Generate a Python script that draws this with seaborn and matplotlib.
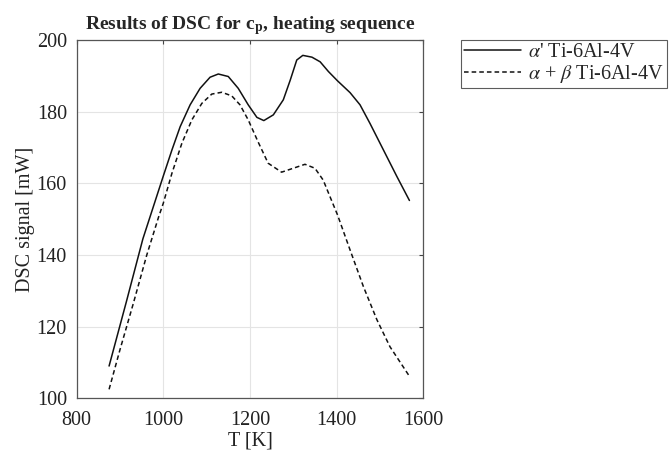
import numpy as np
import pandas as pd
import matplotlib
matplotlib.use("Agg")
import matplotlib.pyplot as plt
import seaborn as sns

# values
T_alpha_prime = [875, 915, 953, 1000, 1020, 1039, 1062, 1085, 1108, 1127, 1150,
                 1173, 1196, 1216, 1232, 1254, 1277, 1293, 1308, 1322, 1343, 1362,
                 1381, 1402, 1431, 1454, 1477, 1508, 1539, 1568]
dsc_alpha_prime = [109.0, 127.0, 144.5, 162.0, 169.3, 175.8, 181.9, 186.5, 189.6,
                   190.5, 189.8, 186.5, 181.9, 178.4, 177.5, 179.1, 183.3, 188.8,
                   194.4, 195.7, 195.2, 193.9, 191.2, 188.6, 185.3, 181.9, 176.7,
                   169.3, 161.9, 155.2]

T_alpha_beta = [875, 900, 931, 962, 989, 1000, 1020, 1043, 1066, 1089, 1112, 1135,
                1158, 1177, 1196, 1219, 1242, 1273, 1300, 1327, 1350, 1369, 1389,
                1402, 1431, 1462, 1493, 1523, 1566]
dsc_alpha_beta = [102.5, 113.5, 126.5, 140.0, 150.5, 154.4, 162.8, 171.2, 177.7,
                  182.3, 184.9, 185.4, 184.4, 181.9, 177.7, 171.5, 165.6, 163.1,
                  164.2, 165.3, 164.2, 160.9, 155.0, 151.2, 141.4, 131.1, 121.9,
                  114.4, 106.5]

label_prime = r"$\alpha$' Ti-6Al-4V"
label_ab = r"$\alpha$ + $\beta$ Ti-6Al-4V"

sns.set_style("whitegrid")
plt.rcParams['font.family'] = ['Liberation Serif', 'DejaVu Serif']
plt.rcParams['mathtext.fontset'] = 'stix'

df1 = pd.DataFrame({"T": T_alpha_prime, "DSC": dsc_alpha_prime})
df2 = pd.DataFrame({"T": T_alpha_beta, "DSC": dsc_alpha_beta})

fig = plt.figure(figsize=(6.7, 4.51), dpi=100)
ax = fig.add_axes([0.1143, 0.1169, 0.5175, 0.7945])

sns.lineplot(data=df1, x="T", y="DSC", ax=ax, color="#111111", linewidth=1.1,
             label=label_prime)
sns.lineplot(data=df2, x="T", y="DSC", ax=ax, color="#111111", linewidth=1.1,
             linestyle=(0, (3, 2)), label=label_ab)

ax.set_xlim(800, 1600)
ax.set_ylim(100, 200)
ax.set_xticks([800, 1000, 1200, 1400, 1600])
ax.set_yticks([100, 120, 140, 160, 180, 200])
ax.tick_params(labelsize=14.5, direction="in", length=3, color="#444444",
               top=True, right=True, pad=7, labelcolor="#222222")
ax.tick_params(axis="x", pad=9)
ax.grid(True, color="#e4e4e4", linewidth=0.8)
for s in ax.spines.values():
    s.set_color("#555555")
    s.set_linewidth(0.9)

ax.set_xlabel("T [K]", fontsize=14.5, labelpad=1, color="#222222")
ax.set_ylabel("DSC signal [mW]", fontsize=14.5, labelpad=1, color="#222222")
ax.set_title("Results of DSC for c$_\\mathbf{p}$, heating sequence",
             fontsize=14, fontweight="bold", pad=8)

leg = ax.legend(loc="upper left", bbox_to_anchor=(1.11, 1.0), fontsize=14.5,
                frameon=True, fancybox=False, borderpad=0.15, labelspacing=0.05,
                handlelength=2.8, handletextpad=0.35, borderaxespad=0)
leg.get_frame().set_edgecolor("#333333")
leg.get_frame().set_linewidth(0.8)

plt.savefig("out.png", dpi=100)
